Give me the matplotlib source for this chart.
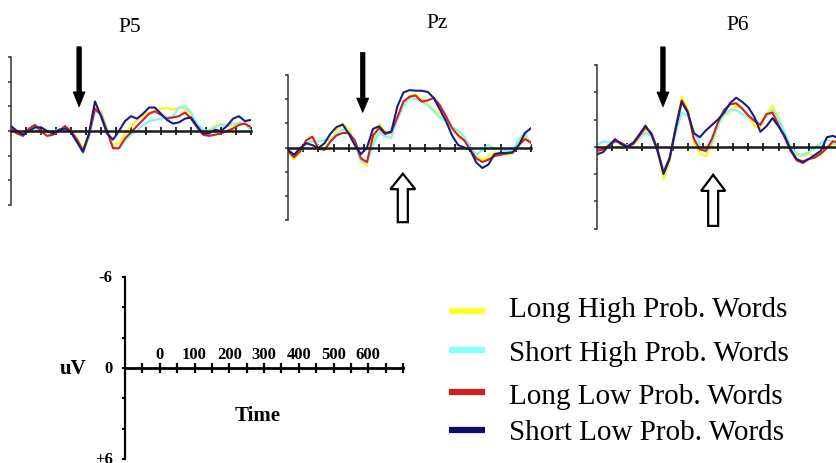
import matplotlib
matplotlib.use('Agg')
import matplotlib.pyplot as plt
from matplotlib.patches import FancyArrow
from matplotlib.lines import Line2D

plt.rcParams['font.family'] = ['Liberation Serif', 'DejaVu Serif']

# ── data (uV, negative plotted upward), 20 ms grid from -100 to 700 ms ──
time_ms = list(range(-100, 701, 20))

p5_long_high = [0.0, 0.2, 0.3, 0.0, -0.2, 0.1, 0.1, 0.1, -0.1, -0.2, 0.0, 0.6, 1.4, 0.2, -1.9, -1.6, -0.2,
                1.1, 1.0, 0.2, -0.4, -0.9, -1.3, -1.5, -1.6, -1.8, -1.9, -1.7, -1.9, -1.8, -1.2, -0.3,
                0.2, -0.1, -0.4, -0.6, -0.5, -0.4, -0.7, -0.5, -0.4]
p5_short_high = [-0.1, 0.2, 0.3, 0.0, -0.2, 0.0, 0.1, 0.0, -0.1, -0.1, 0.1, 0.8, 1.8, 0.5, -1.6, -1.5, -0.2,
                 1.3, 1.4, 0.8, 0.3, 0.0, -0.5, -0.8, -0.9, -1.0, -1.1, -1.2, -1.9, -2.0, -1.5, -0.6,
                 -0.1, 0.0, -0.3, -0.5, -0.5, -0.6, -0.6, -0.6, 0.0]
p5_long_low = [-0.2, 0.2, 0.4, -0.2, -0.5, 0.0, 0.4, 0.3, 0.0, -0.4, 0.0, 0.7, 1.6, 0.3, -1.8, -1.3, 0.0,
               1.4, 1.4, 0.6, 0.1, -0.4, -0.9, -1.4, -1.6, -1.3, -1.0, -1.1, -1.2, -1.5, -1.0, -0.3,
               0.3, 0.4, 0.3, 0.2, 0.0, -0.2, -0.5, -0.6, -0.3]
p5_short_low = [-0.4, 0.0, 0.3, 0.0, -0.3, -0.3, 0.0, 0.2, -0.1, -0.2, 0.1, 0.9, 1.7, 0.2, -2.4, -1.2, 0.2,
                0.7, 0.0, -0.8, -1.2, -1.0, -1.4, -1.9, -1.9, -1.4, -0.9, -0.6, -0.7, -1.0, -1.1, -0.4,
                0.2, 0.2, -0.1, 0.0, -0.4, -1.0, -1.2, -0.8, -0.9]

pz_long_high = [0.3, 1.0, 0.4, -0.4, -0.9, -0.1, 0.1, -0.6, -1.4, -2.0, -1.5, -0.3, 1.2, 1.5, -0.6, -2.0,
                -1.3, -1.1, -2.4, -3.7, -4.3, -4.4, -4.0, -3.6, -3.1, -2.8, -2.3, -1.7, -1.1, -0.6, 0.0,
                0.7, 1.0, 0.8, 0.4, 0.5, 0.6, 0.5, -0.4, -0.9, -0.2]
pz_short_high = [0.2, 0.6, 0.3, -0.4, -0.5, -0.5, -0.6, -0.6, -1.1, -1.5, -1.2, -0.3, 1.1, 1.3, -0.2, -1.3,
                 -0.9, -0.8, -2.3, -3.4, -4.1, -4.0, -3.8, -3.5, -3.0, -2.5, -2.1, -1.7, -1.4, -0.9, -0.1,
                 0.6, 0.2, -0.2, 0.1, 0.1, 0.3, 0.2, -0.7, -1.2, -0.3]
pz_long_low = [0.3, 0.8, 0.3, -0.6, -0.9, 0.1, 0.2, -0.5, -1.0, -1.2, -1.2, -0.6, 0.9, 1.2, -1.0, -1.6,
               -1.1, -1.3, -2.5, -3.8, -4.2, -4.3, -3.8, -3.9, -4.1, -3.5, -2.6, -1.6, -1.0, -0.6, 0.2,
               0.9, 1.2, 1.0, 0.7, 0.6, 0.5, 0.4, -0.2, -0.7, -0.4]
pz_short_low = [0.2, 0.6, 0.05, -0.35, -0.2, 0.05, -0.35, -1.15, -1.7, -1.9, -1.15, -0.2, 0.55, 0.0, -1.55,
                -1.75, -1.2, -1.3, -3.4, -4.55, -4.75, -4.7, -4.7, -4.6, -4.1, -3.15, -2.2, -1.0, -0.2,
                0.0, 0.2, 1.25, 1.7, 1.4, 0.55, 0.45, 0.45, 0.4, -0.2, -1.2, -1.6]

p6_long_high = [0.4, 0.1, -0.2, -0.5, -0.1, 0.1, -0.2, -0.6, -1.1, -0.9, 0.3, 2.4, 1.0, -1.5, -3.7, -2.8,
                -0.4, 0.5, 0.7, -0.1, -1.6, -2.3, -2.6, -3.0, -2.8, -2.3, -1.5, -1.4, -2.4, -3.0, -2.1,
                -1.0, 0.3, 0.6, 0.7, 0.5, 0.7, 0.6, 0.0, -0.2, -0.1]
p6_short_high = [-0.1, -0.4, -0.3, -0.4, -0.2, -0.1, -0.3, -0.7, -1.0, -0.8, 0.2, 1.7, 0.8, -1.0, -2.5,
                 -2.3, -1.1, -0.2, 0.4, -0.3, -1.6, -2.4, -2.7, -2.7, -2.4, -2.2, -2.0, -1.7, -2.2, -2.7,
                 -2.0, -1.1, 0.0, 0.5, 0.6, 0.4, 0.1, -0.3, -0.5, -0.4, 0.0]
p6_long_low = [0.3, 0.2, -0.1, -0.4, -0.3, 0.0, -0.2, -0.8, -1.4, -1.0, 0.2, 1.9, 0.8, -1.4, -3.4, -2.6,
               -0.6, 0.2, 0.3, -0.6, -1.8, -2.7, -3.1, -3.2, -2.8, -2.3, -1.9, -1.6, -2.4, -2.5, -1.6,
               -0.7, 0.3, 1.0, 1.2, 0.9, 0.8, 0.5, 0.1, -0.4, -0.3]
p6_short_low = [0.55, 0.4, -0.1, -0.55, -0.2, 0.0, -0.3, -0.9, -1.55, -0.9, 0.3, 2.0, 0.9, -1.3, -3.3,
                -2.5, -1.0, -0.7, -1.2, -1.6, -2.0, -2.5, -3.2, -3.6, -3.3, -2.9, -2.2, -1.1, -1.5, -2.1,
                -1.5, -0.8, 0.2, 0.9, 1.1, 0.9, 0.6, 0.3, -0.7, -0.8, -0.6]

condition_labels = ['Long High Prob. Words', 'Short High Prob. Words',
                    'Long Low Prob. Words', 'Short Low Prob. Words']
condition_colors = ['#f8f818', '#80f4f4', '#d42020', '#1c1c84']
legend_colors = ['#ffff30', '#88ffff', '#cc2020', '#0c0c6c']

panel_titles = ['P5', 'Pz', 'P6']
scale_time_labels = [0, 100, 200, 300, 400, 500, 600]
scale_uv_labels = ['-6', '0', '+6']
scale_uv_values = [-6, 0, 6]

W, H = 836, 464
fig = plt.figure(figsize=(W / 100, H / 100), dpi=100)


def px_axes(x0, x1, y_top, y_bot):
    # axes placed by pixel box of the reference image
    ax = fig.add_axes([x0 / W, 1 - y_bot / H, (x1 - x0) / W, (y_bot - y_top) / H])
    ax.patch.set_alpha(0)
    return ax


def erp_axes(ax, ytop):
    ax.set_xlim(-100, 700)
    ax.set_ylim(6, ytop)
    ax.spines['top'].set_visible(False)
    ax.spines['right'].set_visible(False)
    ax.spines['bottom'].set_position(('data', 0))
    ax.spines['bottom'].set_linewidth(1.8)
    ax.spines['bottom'].set_color('#1a1a1a')
    ax.spines['left'].set_linewidth(1.1)
    ax.spines['left'].set_color('#333333')
    ax.set_xticks(range(-50, 701, 50))
    ax.set_xticklabels([])
    ax.set_yticks([-6, -4, -2, 0, 2, 4, 6])
    ax.set_yticklabels([])
    ax.tick_params(axis='x', direction='inout', length=6, width=1.3, color='#1a1a1a')
    ax.tick_params(axis='y', direction='out', length=2.5, width=1.1, color='#333333')


def arrow(ax, t, v_tail, v_tip, w, hw, hl, hollow=False):
    fc = 'white' if hollow else 'black'
    a = FancyArrow(t, v_tail, 0, v_tip - v_tail, width=w, head_width=hw, head_length=hl,
                   length_includes_head=True, fc=fc, ec='black', lw=1.6 if hollow else 0.5,
                   clip_on=False, zorder=5)
    ax.add_patch(a)


panels = [
    # title, data, axes box (x0, x1, ytop, ybot), ylim top, title pos
    ('P5', [p5_long_high, p5_short_high, p5_long_low, p5_short_low], (11, 251, 58, 206), -6, (130, 32)),
    ('Pz', [pz_long_high, pz_short_high, pz_long_low, pz_short_low], (288, 531, 76, 221), -5.6, (437, 28)),
    ('P6', [p6_long_high, p6_short_high, p6_long_low, p6_short_low], (597, 839, 66, 229.5), -6, (738, 30)),
]

axes = []
for title, series, box, ytop, tpos in panels:
    ax = px_axes(*box)
    erp_axes(ax, ytop)
    for vals, col in zip(series, condition_colors):
        ax.plot(time_ms, vals, color=col, lw=1.5, solid_joinstyle='round', zorder=2)
    fig.text(tpos[0] / W, 1 - tpos[1] / H, title, ha='center', va='baseline', fontsize=15.5)
    axes.append(ax)

ax5, axz, ax6 = axes
arrow(ax5, 127, -6.83, -1.95, 15, 40, 1.22)
arrow(axz, 146, -7.87, -2.89, 15, 40, 1.2)
arrow(axz, 278, 6.18, 2.17, 33, 82, 1.28, hollow=True)
arrow(ax6, 118, -7.33, -2.92, 15, 40, 1.1)
arrow(ax6, 284, 5.81, 2.06, 33, 80, 1.18, hollow=True)

# ── scale axes (bottom left) ──
axs = px_axes(125, 403, 278, 460)
axs.set_xlim(-100, 700)
axs.set_ylim(6, -6)
for s in ['top', 'right']:
    axs.spines[s].set_visible(False)
axs.spines['bottom'].set_position(('data', 0))
axs.spines['bottom'].set_linewidth(2.0)
axs.spines['left'].set_linewidth(1.6)
axs.set_xticks(range(-50, 701, 50))
axs.set_xticklabels([])
axs.set_yticks([-6, -4, -2, 0, 2, 4, 6])
axs.set_yticklabels([])
axs.tick_params(axis='x', direction='inout', length=7, width=1.6)
axs.tick_params(axis='y', direction='out', length=2.5, width=1.5)
for t in scale_time_labels:
    axs.text(t, -0.95, str(t), ha='center', va='center', fontsize=12, fontweight='bold')
for lab, v in zip(scale_uv_labels, scale_uv_values):
    axs.text(-135, v, lab, ha='right', va='center', fontsize=12, fontweight='bold', clip_on=False)
axs.text(-250, 0, 'uV', ha='center', va='center', fontsize=15, fontweight='bold')
axs.text(283, 3.1, 'Time', ha='center', va='center', fontsize=15, fontweight='bold')

# ── legend ──
row_line_y = [312, 351, 393, 431]
row_text_y = [317, 361, 404, 440]
for lab, col, yl, yt in zip(condition_labels, legend_colors, row_line_y, row_text_y):
    fig.add_artist(Line2D([449 / W, 485 / W], [1 - yl / H, 1 - yl / H], color=col, lw=4.5,
                          solid_capstyle='butt'))
    fig.text(509 / W, 1 - yt / H, lab, ha='left', va='baseline', fontsize=21)

fig.savefig('out.png', dpi=100)
